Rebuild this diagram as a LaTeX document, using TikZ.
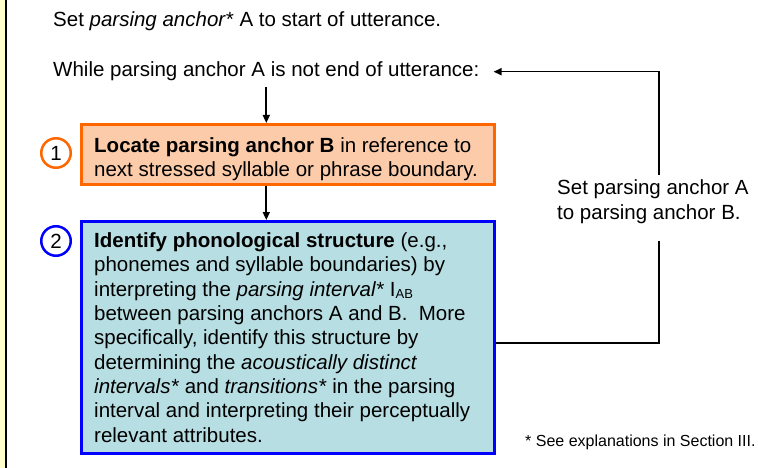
\documentclass[tikz,border=0pt]{standalone}
\usepackage{fontspec}
\setmainfont{Liberation Sans}
\usetikzlibrary{arrows.meta}
\definecolor{peach}{RGB}{252,204,170}
\definecolor{tealfill}{RGB}{183,222,227}
\definecolor{orangeline}{RGB}{255,102,0}
\definecolor{blueline}{RGB}{0,0,255}
\definecolor{paleyellow}{RGB}{255,255,204}

\begin{document}
\begin{tikzpicture}[x=1pt,y=-1pt,
  txt/.style={font=\fontsize{20.5}{24.3}\selectfont, inner sep=0pt, align=left},
  stepbox/.style={draw, line width=2.8pt, minimum width=413pt, inner sep=0pt},
  numcirc/.style={circle, draw, line width=2.5pt, fill=white, minimum size=29.5pt,
                  inner sep=0pt, font=\fontsize{20.5}{24}\selectfont},
  conn/.style={line width=1.6pt},
  arr/.style={conn, -{Triangle[length=8pt,width=7pt]}}]

\useasboundingbox (0,0) rectangle (758,468);

% page edge strip on the left
\fill[paleyellow] (0,0) rectangle (5,468);
\draw[line width=2.5pt] (6,0) -- (6,468);

% header lines
\node[txt, anchor=base west] (start) at (53,27)
  {Set \textit{parsing anchor*} A to start of utterance.};
\node[txt, anchor=base west] (whl) at (53,77)
  {While parsing anchor A is not end of utterance:};

% step boxes
\node[stepbox, draw=orangeline, fill=peach, minimum height=60.2pt] (box1) at (288,154.5) {};
\node[stepbox, draw=blueline, fill=tealfill, minimum height=232.2pt] (box2) at (288,337.5) {};

% box texts (base anchor sits on the last line)
\node[txt, anchor=base west] (text1) at (94,177)
  {\textbf{Locate parsing anchor B} in reference to\\
   next stressed syllable or phrase boundary.};
\node[txt, anchor=base west] (text2) at (94,442)
  {\textbf{Identify phonological structure} (e.g.,\\
   phonemes and syllable boundaries) by\\
   interpreting the \textit{parsing interval*} I\raisebox{-2.5pt}{\fontsize{13}{13}\selectfont AB}\\
   between parsing anchors A and B.\ \ More\\
   specifically, identify this structure by\\
   determining the \textit{acoustically distinct}\\
   \textit{intervals*} and \textit{transitions*} in the parsing\\
   interval and interpreting their perceptually\\
   relevant attributes.};

% step numbers
\node[numcirc, draw=orangeline] (num1) at (56,153) {1};
\node[numcirc, draw=blueline] (num2) at (56,241) {2};

% loop label
\node[txt, anchor=base west, font=\fontsize{20.5}{25}\selectfont] (lbl) at (557,219)
  {Set parsing anchor A\\to parsing anchor B.};
\coordinate (ltop) at (659,175);
\coordinate (lbot) at (659,241);
\coordinate (b2out) at ([yshift=-5.5pt]box2.east);

% footnote
\node[inner sep=0pt, anchor=base west, font=\fontsize{16}{19}\selectfont] (note) at (525,446)
  {* See explanations in Section III.};

% connectors
\draw[arr] ([yshift=-6pt]whl.south) -- (whl.south |- box1.north);
\draw[arr] (whl.south |- box1.south) -- (whl.south |- box2.north);
\draw[conn] (b2out) -- (b2out -| lbot) -- (lbot);
\draw[arr] (ltop) -- (ltop |- whl.east) -- ([xshift=14pt]whl.east);
\end{tikzpicture}
\end{document}
